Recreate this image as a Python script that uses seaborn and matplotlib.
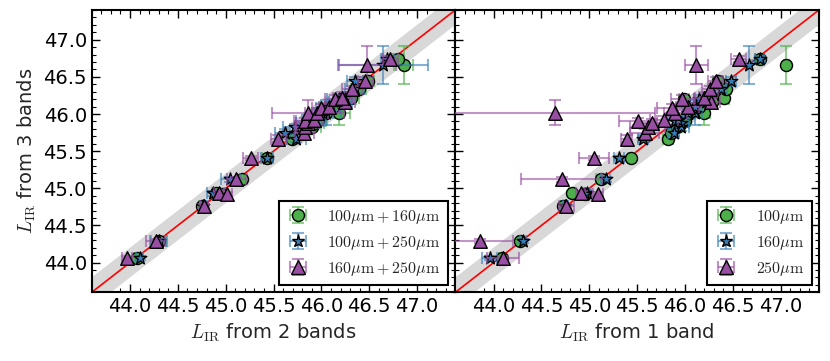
import numpy as np
import pandas as pd
import matplotlib
matplotlib.use("Agg")
import matplotlib.pyplot as plt
import seaborn as sns
from matplotlib.ticker import MultipleLocator
from matplotlib.lines import Line2D

# ---------------- data ----------------
# L_IR from 3 bands (shared y for every galaxy) and its uncertainty
y3 = [44.06, 44.29, 44.76, 44.93, 44.92, 45.12, 45.41, 45.67, 45.75, 45.82,
      45.88, 45.90, 45.92, 46.02, 46.01, 46.08, 46.10, 46.16, 46.20, 46.21,
      46.33, 46.44, 46.66, 46.74]
y3_err = [0.03, 0.03, 0.03, 0.03, 0.03, 0.03, 0.03, 0.05, 0.05, 0.05,
          0.05, 0.05, 0.05, 0.17, 0.05, 0.05, 0.05, 0.05, 0.05, 0.08,
          0.05, 0.06, 0.25, 0.04]

# L_IR from 2 bands
x2_100_160 = [44.07, 44.30, 44.75, 44.90, 44.95, 45.17, 45.43, 45.69, 45.78, 45.90,
              45.93, 45.95, 45.96, 46.18, 46.05, 46.06, 46.12, 46.22, 46.20, 46.31,
              46.39, 46.49, 46.86, 46.80]
x2_100_160_err = [0.03, 0.08, 0.03, 0.04, 0.04, 0.05, 0.05, 0.06, 0.08, 0.10,
                  0.10, 0.10, 0.10, 0.12, 0.08, 0.08, 0.08, 0.08, 0.08, 0.08,
                  0.08, 0.06, 0.10, 0.05]
x2_100_250 = [44.10, 44.30, 44.76, 44.87, 44.93, 45.05, 45.43, 45.74, 45.62, 45.72,
              45.85, 45.88, 45.90, 46.05, 46.02, 46.04, 46.10, 46.20, 46.18, 46.25,
              46.35, 46.35, 46.64, 46.69]
x2_100_250_err = [0.04, 0.09, 0.03, 0.07, 0.05, 0.10, 0.06, 0.10, 0.10, 0.12,
                  0.12, 0.15, 0.10, 0.15, 0.10, 0.10, 0.10, 0.12, 0.12, 0.10,
                  0.10, 0.08, 0.47, 0.07]
x2_160_250 = [43.97, 44.27, 44.77, 44.93, 45.01, 45.11, 45.26, 45.55, 45.82, 45.83,
              45.86, 45.83, 45.92, 45.86, 45.95, 46.00, 46.08, 46.25, 46.14, 46.22,
              46.32, 46.46, 46.48, 46.72]
x2_160_250_err = [0.05, 0.10, 0.04, 0.05, 0.06, 0.10, 0.08, 0.08, 0.10, 0.10,
                  0.12, 0.12, 0.10, 0.38, 0.12, 0.10, 0.10, 0.10, 0.10, 0.10,
                  0.10, 0.08, 0.30, 0.08]

# L_IR from 1 band
x1_100 = [44.09, 44.28, 44.73, 44.82, 44.95, 45.12, 45.44, 45.82, 45.85, 45.92,
          45.95, 46.00, 45.98, 46.20, 46.05, 46.10, 46.15, 46.28, 45.99, 46.41,
          46.43, 46.34, 47.06, 46.78]
x1_100_err = [0.03, 0.03, 0.03, 0.03, 0.03, 0.05, 0.04, 0.05, 0.05, 0.05,
              0.05, 0.05, 0.05, 0.06, 0.05, 0.05, 0.05, 0.05, 0.05, 0.05,
              0.05, 0.05, 0.03, 0.05]
x1_160 = [43.96, 44.31, 44.75, 44.98, 44.96, 45.17, 45.31, 45.56, 45.88, 45.96,
          45.96, 45.90, 45.93, 46.10, 46.03, 46.08, 46.10, 46.22, 46.15, 46.25,
          46.38, 46.48, 46.67, 46.78]
x1_160_err = [0.08, 0.03, 0.03, 0.04, 0.04, 0.05, 0.05, 0.05, 0.06, 0.08,
              0.08, 0.08, 0.06, 0.08, 0.06, 0.06, 0.06, 0.06, 0.06, 0.06,
              0.06, 0.05, 0.03, 0.05]
x1_250 = [44.10, 43.86, 44.76, 44.91, 45.09, 44.71, 45.05, 45.39, 45.58, 45.61,
          45.65, 45.51, 45.78, 44.64, 45.90, 45.86, 46.03, 46.27, 45.97, 46.20,
          46.26, 46.32, 46.12, 46.56]
x1_250_err = [0.17, 0.34, 0.08, 0.05, 0.05, 0.42, 0.16, 0.06, 0.15, 0.18,
              0.15, 0.20, 0.15, 1.05, 0.12, 0.15, 0.12, 0.10, 0.12, 0.10,
              0.08, 0.08, 0.12, 0.08]

labels2 = [r"$100\mu{\rm m} + 160\mu{\rm m}$",
           r"$100\mu{\rm m} + 250\mu{\rm m}$",
           r"$160\mu{\rm m} + 250\mu{\rm m}$"]
labels1 = [r"$100\mu{\rm m}$", r"$160\mu{\rm m}$", r"$250\mu{\rm m}$"]
xlabels = [r"$L_{\rm IR}$ from 2 bands", r"$L_{\rm IR}$ from 1 band"]
ylabel = r"$L_{\rm IR}$ from 3 bands"

lims = [43.6, 47.4]
band_halfwidth = 0.2

# ---------------- style ----------------
sns.set_style("ticks")
plt.rcParams.update({
    "font.family": ["DejaVu Sans"],
    "mathtext.fontset": "cm",
    "xtick.direction": "in", "ytick.direction": "in",
    "xtick.top": True, "ytick.right": True,
    "xtick.major.size": 6, "ytick.major.size": 6,
    "xtick.minor.size": 3, "ytick.minor.size": 3,
    "xtick.major.width": 1.0, "ytick.major.width": 1.0,
    "xtick.minor.width": 0.8, "ytick.minor.width": 0.8,
    "axes.linewidth": 1.5,
    "axes.edgecolor": "black",
    "xtick.color": "black", "ytick.color": "black",
})

colors = ["#4daf4a", "#377eb8", "#984ea3"]
markers = ["o", "*", "^"]
sizes = [75, 90, 95]

fig, axes = plt.subplots(1, 2, figsize=(8.3, 3.61), dpi=100, sharey=True)
fig.subplots_adjust(left=0.1105, right=0.9867, top=0.9723, bottom=0.1903, wspace=0)

panels = [
    ([x2_100_160, x2_100_250, x2_160_250],
     [x2_100_160_err, x2_100_250_err, x2_160_250_err], labels2),
    ([x1_100, x1_160, x1_250],
     [x1_100_err, x1_160_err, x1_250_err], labels1),
]

for ax, (xs, xerrs, labs), xl in zip(axes, panels, xlabels):
    ext = [lims[0] - 1, lims[1] + 1]
    ax.fill_between(ext,
                    [ext[0] - band_halfwidth, ext[1] - band_halfwidth],
                    [ext[0] + band_halfwidth, ext[1] + band_halfwidth],
                    color="#d8d8d8", lw=0, zorder=1)
    ax.plot(ext, ext, color="red", lw=1.2, zorder=2)
    handles = []
    for i, (x, xe, lab) in enumerate(zip(xs, xerrs, labs)):
        c = colors[i]
        ecol = matplotlib.colors.to_rgba(c, 0.6)
        eb = ax.errorbar(x, y3, xerr=xe, yerr=y3_err, fmt="none", ecolor=ecol,
                         elinewidth=1.5, capsize=4, capthick=1.5, zorder=3 + 2 * i)
        df = pd.DataFrame({"x": x, "y": y3})
        sns.scatterplot(data=df, x="x", y="y", marker=markers[i], s=sizes[i],
                        color=c, edgecolor="black", linewidth=1.0, ax=ax,
                        zorder=4 + 2 * i, legend=False)
        mk = Line2D([], [], ls="none", marker=markers[i], markersize=np.sqrt(sizes[i]),
                    markerfacecolor=c, markeredgecolor="black", markeredgewidth=1.0)
        handles.append((eb, mk))
    leg = ax.legend(handles, labs, loc="lower right", fontsize=11.5, frameon=True,
                    fancybox=False, edgecolor="black", framealpha=1,
                    handletextpad=1.1, labelspacing=0.5, borderaxespad=0.45,
                    handlelength=1.5, borderpad=0.45)
    leg.get_frame().set_linewidth(1.5)
    ax.set_xlim(lims)
    ax.set_ylim(lims)
    ax.xaxis.set_major_locator(MultipleLocator(0.5))
    ax.xaxis.set_minor_locator(MultipleLocator(0.1))
    ax.yaxis.set_major_locator(MultipleLocator(0.5))
    ax.yaxis.set_minor_locator(MultipleLocator(0.1))
    ax.tick_params(labelsize=14)
    ax.set_xlabel(xl, fontsize=14)

axes[0].set_ylabel(ylabel, fontsize=14)
axes[1].tick_params(labelleft=False)

fig.savefig("out.png", dpi=100)
